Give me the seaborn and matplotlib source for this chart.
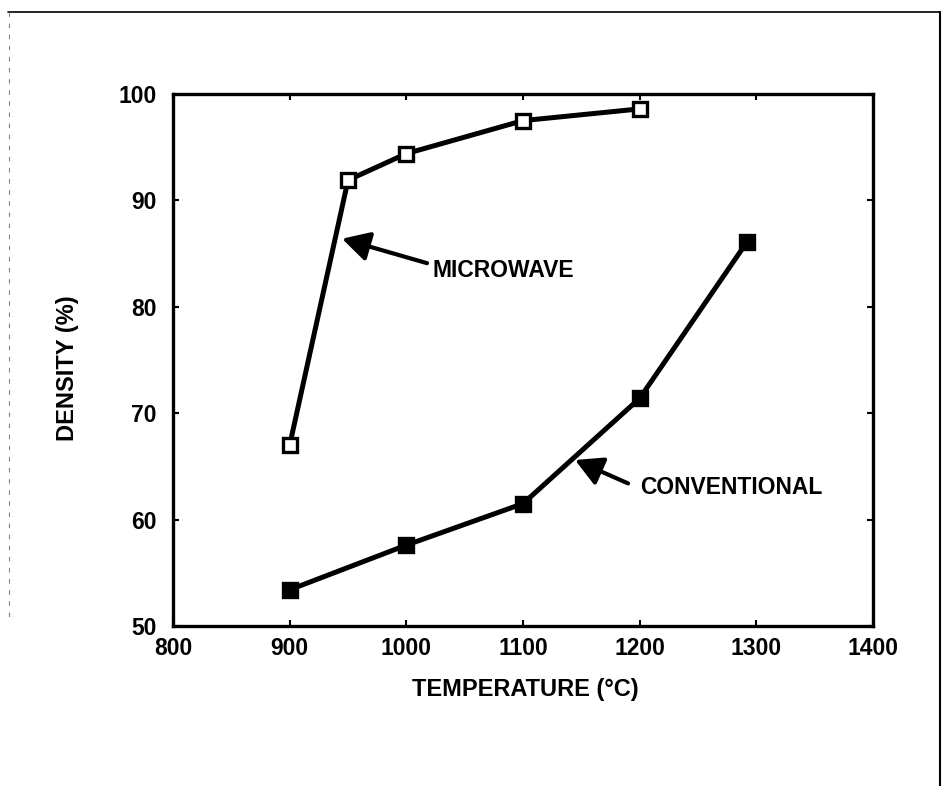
import matplotlib
matplotlib.use("Agg")
import matplotlib.pyplot as plt
from matplotlib.lines import Line2D
import seaborn as sns
import pandas as pd

# ---- data ----
micro_temp = [900, 950, 1000, 1100, 1200]
micro_density = [67.0, 91.9, 94.4, 97.5, 98.6]
conv_temp = [900, 1000, 1100, 1200, 1292]
conv_density = [53.4, 57.6, 61.5, 71.4, 86.1]
x_ticks = [800, 900, 1000, 1100, 1200, 1300, 1400]
y_ticks = [50, 60, 70, 80, 90, 100]
x_label = "TEMPERATURE (°C)"
y_label = "DENSITY (%)"
label_micro = "MICROWAVE"
label_conv = "CONVENTIONAL"

sns.set_theme(style="white")
plt.rcParams['font.family'] = ['Liberation Sans', 'DejaVu Sans']
plt.rcParams['font.weight'] = 'bold'
plt.rcParams['text.color'] = 'black'
plt.rcParams['axes.labelcolor'] = 'black'
plt.rcParams['xtick.color'] = 'black'
plt.rcParams['ytick.color'] = 'black'

fig = plt.figure(figsize=(9.47, 7.86), dpi=100)
ax = fig.add_axes([0.1827, 0.2036, 0.7392, 0.6768])

df_m = pd.DataFrame({"T": micro_temp, "D": micro_density})
df_c = pd.DataFrame({"T": conv_temp, "D": conv_density})

sns.lineplot(data=df_m, x="T", y="D", ax=ax, color="black", lw=3.6,
             marker="s", markersize=10.5, markerfacecolor="white",
             markeredgecolor="black", markeredgewidth=2.4, sort=False)
sns.lineplot(data=df_c, x="T", y="D", ax=ax, color="black", lw=3.6,
             marker="s", markersize=10.5, markerfacecolor="black",
             markeredgecolor="black", markeredgewidth=2.4, sort=False)

ax.set_xlim(800, 1400)
ax.set_ylim(50, 100)
ax.set_xticks(x_ticks)
ax.set_yticks(y_ticks)
ax.set_xticklabels([str(t) for t in x_ticks], fontsize=16.5, fontweight='bold')
ax.set_yticklabels([str(t) for t in y_ticks], fontsize=16.5, fontweight='bold')
ax.tick_params(axis='both', direction='in', length=4, width=1.5, colors='black',
               top=True, right=True, bottom=True, left=True)
ax.tick_params(axis='x', pad=8)
ax.tick_params(axis='y', pad=12)
for s in ax.spines.values():
    s.set_visible(True)
    s.set_color('black')
    s.set_linewidth(2.4)

ax.set_xlabel(x_label, fontsize=17, fontweight='bold', color='black')
ax.set_ylabel(y_label, fontsize=17, fontweight='bold', color='black')
ax.xaxis.set_label_coords(0.503, -0.098)
ax.yaxis.set_label_coords(-0.134, 0.485)

# annotations
ax.text(1022, 83.4, label_micro, fontsize=16.5, fontweight='bold', ha='left', va='center',
        color='black')
ax.annotate("", xy=(944.9, 86.4), xytext=(1017.7, 84.1),
            arrowprops=dict(arrowstyle='-|>,head_length=0.55,head_width=0.3', color='black',
                            lw=3, mutation_scale=30, shrinkA=0, shrinkB=0))
ax.text(1200, 63.05, label_conv, fontsize=16.5, fontweight='bold', ha='left', va='center',
        color='black')
ax.annotate("", xy=(1144.6, 65.6), xytext=(1190, 63.4),
            arrowprops=dict(arrowstyle='-|>,head_length=0.55,head_width=0.3', color='black',
                            lw=3, mutation_scale=30, shrinkA=0, shrinkB=0))

# page frame
W, H = 947, 786
fig.add_artist(Line2D([8 / W, 940 / W], [1 - 12 / H, 1 - 12 / H], color='black', lw=1.2,
                      transform=fig.transFigure))
fig.add_artist(Line2D([940 / W, 940 / W], [1 - 12 / H, 0], color='black', lw=1.5,
                      transform=fig.transFigure))
fig.add_artist(Line2D([9 / W, 9 / W], [1 - 12 / H, 1 - 620 / H], color='gray', lw=0.8,
                      ls=(0, (4, 6)), transform=fig.transFigure))

fig.savefig("out.png", dpi=100)
